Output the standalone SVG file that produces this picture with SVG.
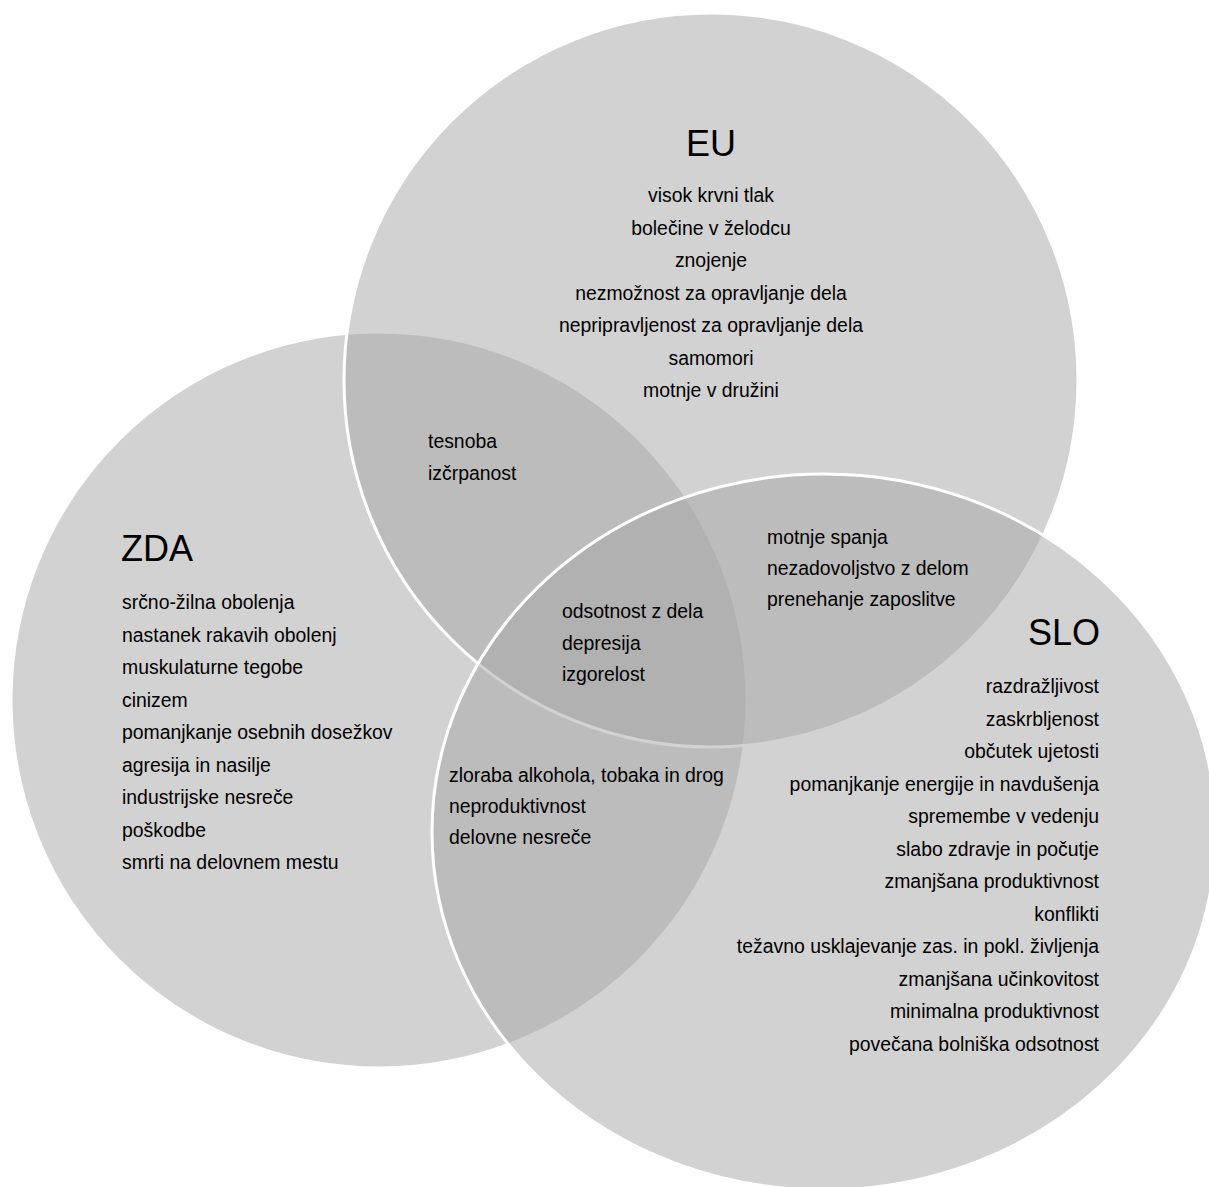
<svg xmlns="http://www.w3.org/2000/svg" width="1209" height="1187" viewBox="0 0 1209 1187">
  <style>
    .set { fill: #a5a5a5; fill-opacity: 0.5; stroke: #ffffff; stroke-width: 3; }
    text { font-family: "Liberation Sans", Arial, sans-serif; fill: #000000; }
    .item { font-size: 19.4px; }
    .title { font-size: 36px; }
    .mid { text-anchor: middle; }
    .end { text-anchor: end; }
  </style>
  <rect x="0" y="0" width="1209" height="1187" fill="#ffffff"/>

  <!-- sets (draw order: ZDA, EU, SLO) -->
  <g id="node-zda-shape">
    <circle class="set" cx="379" cy="700" r="368"/>
  </g>
  <g id="node-eu-shape">
    <circle class="set" cx="711" cy="380" r="367"/>
  </g>
  <g id="node-slo-shape">
    <ellipse class="set" cx="824" cy="832" rx="392" ry="358"/>
  </g>

  <g id="connectors"></g>

  <!-- EU -->
  <g id="node-eu">
    <text class="title mid" x="711" y="156">EU</text>
    <text class="item mid" x="711" y="202">visok krvni tlak</text>
    <text class="item mid" x="711" y="234.5">bolečine v želodcu</text>
    <text class="item mid" x="711" y="267">znojenje</text>
    <text class="item mid" x="711" y="299.5">nezmožnost za opravljanje dela</text>
    <text class="item mid" x="711" y="332">nepripravljenost za opravljanje dela</text>
    <text class="item mid" x="711" y="364.5">samomori</text>
    <text class="item mid" x="711" y="397">motnje v družini</text>
  </g>

  <!-- ZDA -->
  <g id="node-zda">
    <text class="title" x="121" y="561">ZDA</text>
    <text class="item" x="122" y="609">srčno-žilna obolenja</text>
    <text class="item" x="122" y="641.5">nastanek rakavih obolenj</text>
    <text class="item" x="122" y="674">muskulaturne tegobe</text>
    <text class="item" x="122" y="706.5">cinizem</text>
    <text class="item" x="122" y="739">pomanjkanje osebnih dosežkov</text>
    <text class="item" x="122" y="771.5">agresija in nasilje</text>
    <text class="item" x="122" y="804">industrijske nesreče</text>
    <text class="item" x="122" y="836.5">poškodbe</text>
    <text class="item" x="122" y="869">smrti na delovnem mestu</text>
  </g>

  <!-- SLO -->
  <g id="node-slo">
    <text class="title end" x="1100" y="645">SLO</text>
    <text class="item end" x="1099" y="693">razdražljivost</text>
    <text class="item end" x="1099" y="725.5">zaskrbljenost</text>
    <text class="item end" x="1099" y="758">občutek ujetosti</text>
    <text class="item end" x="1099" y="790.5">pomanjkanje energije in navdušenja</text>
    <text class="item end" x="1099" y="823">spremembe v vedenju</text>
    <text class="item end" x="1099" y="855.5">slabo zdravje in počutje</text>
    <text class="item end" x="1099" y="888">zmanjšana produktivnost</text>
    <text class="item end" x="1099" y="920.5">konflikti</text>
    <text class="item end" x="1099" y="953">težavno usklajevanje zas. in pokl. življenja</text>
    <text class="item end" x="1099" y="985.5">zmanjšana učinkovitost</text>
    <text class="item end" x="1099" y="1018">minimalna produktivnost</text>
    <text class="item end" x="1099" y="1050.5">povečana bolniška odsotnost</text>
  </g>

  <!-- EU ∩ ZDA -->
  <g id="node-eu-zda">
    <text class="item" x="428" y="448">tesnoba</text>
    <text class="item" x="428" y="480">izčrpanost</text>
  </g>

  <!-- EU ∩ ZDA ∩ SLO -->
  <g id="node-all">
    <text class="item" x="562" y="618">odsotnost z dela</text>
    <text class="item" x="562" y="649.5">depresija</text>
    <text class="item" x="562" y="681">izgorelost</text>
  </g>

  <!-- EU ∩ SLO -->
  <g id="node-eu-slo">
    <text class="item" x="767" y="543.5">motnje spanja</text>
    <text class="item" x="767" y="574.5">nezadovoljstvo z delom</text>
    <text class="item" x="767" y="605.5">prenehanje zaposlitve</text>
  </g>

  <!-- ZDA ∩ SLO -->
  <g id="node-zda-slo">
    <text class="item" x="449" y="782">zloraba alkohola, tobaka in drog</text>
    <text class="item" x="449" y="813">neproduktivnost</text>
    <text class="item" x="449" y="844">delovne nesreče</text>
  </g>
</svg>
